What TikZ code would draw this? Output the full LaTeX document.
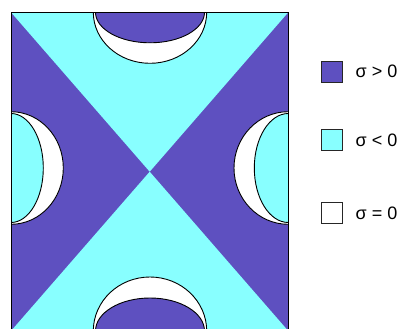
\documentclass[tikz,border=0pt]{standalone}
\usepackage{fontspec}
\setmainfont{Liberation Sans}
\definecolor{pur}{RGB}{94,80,192}
\definecolor{cyn}{RGB}{136,255,255}
\tikzset{
  rim/.style={draw=black, line width=0.9pt},
  keybox/.style={draw=black!85, line width=0.9pt, minimum size=21pt, inner sep=0pt},
  keytext/.style={anchor=west, inner sep=0pt, font=\fontsize{18}{21}\selectfont}
}
\begin{document}
\begin{tikzpicture}[x=1pt,y=-1pt]
\useasboundingbox (0,0) rectangle (405,329);
\begin{scope}
\clip (11,12.3) rectangle (288.3,331);
\fill[pur] (11,12.3) rectangle (288.3,331);
\fill[cyn] (11,12.3) -- (288.3,12.3) -- (149.7,171.7) -- cycle;
\fill[cyn] (11,331) -- (288.3,331) -- (149.7,171.7) -- cycle;
% top
\draw[rim, fill=white] (150,12.3) ellipse [x radius=56.7, y radius=51];
\draw[rim, fill=pur] (150,12.3) ellipse [x radius=54.5, y radius=30.5];
% bottom
\draw[rim, fill=white] (150,331) ellipse [x radius=56.7, y radius=54];
\draw[rim, fill=pur] (150,331) ellipse [x radius=54.5, y radius=33];
% left
\draw[rim, fill=white] (11,168) ellipse [x radius=52.3, y radius=56.3];
\draw[rim, fill=cyn] (11,168) ellipse [x radius=32.3, y radius=54.5];
% right
\draw[rim, fill=white] (288.3,168) ellipse [x radius=54.3, y radius=56.3];
\draw[rim, fill=cyn] (288.3,168) ellipse [x radius=34, y radius=54.5];
\end{scope}
\draw[line width=0.9pt] (11,12.3) rectangle (288.3,331);
% legend
\node[keybox, fill=pur] (k1) at (332,71.7) {};
\node[keybox, fill=cyn] (k2) at (332,140.2) {};
\node[keybox, fill=white] (k3) at (332,213.2) {};
\node[keytext] (t1) at (355.5,71.7) {σ > 0};
\node[keytext] (t2) at (355.5,140.2) {σ < 0};
\node[keytext] (t3) at (355.5,213.2) {σ = 0};
\end{tikzpicture}
\end{document}
